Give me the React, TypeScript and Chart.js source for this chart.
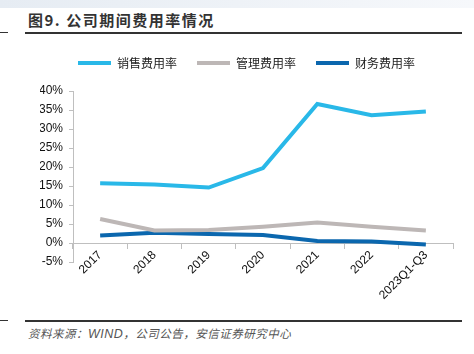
import React, { useEffect, useRef } from "react";
import { Chart, registerables } from "chart.js";

Chart.register(...registerables);

const categories = ["2017", "2018", "2019", "2020", "2021", "2022", "2023Q1-Q3"];
const salesRate = [15.7, 15.4, 14.6, 19.7, 36.6, 33.6, 34.6];
const mgmtRate = [6.3, 3.3, 3.4, 4.3, 5.4, 4.3, 3.3];
const financeRate = [2.0, 2.7, 2.4, 2.1, 0.5, 0.4, -0.4];
const seriesNames = ["销售费用率", "管理费用率", "财务费用率"];
const yTicks = [-5, 0, 5, 10, 15, 20, 25, 30, 35, 40];

const CJK = '"Noto Sans CJK SC", "Noto Sans", sans-serif';
const LATIN = '"Liberation Sans", Arial, sans-serif';

const legendGap = {
  id: "legendGap",
  beforeInit(chart: any) {
    const legend = chart.legend;
    if (!legend) return;
    const orig = legend.fit;
    legend.fit = function () {
      orig.call(this);
      this.height += 12;
    };
  },
};

export default function App() {
  const ref = useRef<HTMLCanvasElement | null>(null);

  useEffect(() => {
    if (!ref.current) return;
    const chart = new Chart(ref.current, {
      type: "line",
      data: {
        labels: categories,
        datasets: [
          { label: seriesNames[0], data: salesRate, borderColor: "#29B8E8", backgroundColor: "#29B8E8", borderWidth: 4, pointRadius: 0, tension: 0 },
          { label: seriesNames[1], data: mgmtRate, borderColor: "#BDB7B6", backgroundColor: "#BDB7B6", borderWidth: 4, pointRadius: 0, tension: 0 },
          { label: seriesNames[2], data: financeRate, borderColor: "#0B67AE", backgroundColor: "#0B67AE", borderWidth: 4, pointRadius: 0, tension: 0 },
        ],
      },
      options: {
        animation: false,
        responsive: false,
        maintainAspectRatio: false,
        layout: { padding: { top: 37, left: 40, right: 21, bottom: 56 } },
        plugins: {
          tooltip: { enabled: false },
          legend: {
            position: "top",
            labels: {
              boxWidth: 33,
              boxHeight: 4,
              padding: 20,
              color: "#222",
              font: { family: CJK, size: 12 },
              generateLabels: (c: any) =>
                c.data.datasets.map((d: any, i: number) => ({
                  text: d.label,
                  fillStyle: d.borderColor,
                  strokeStyle: d.borderColor,
                  lineWidth: 0,
                  hidden: false,
                  datasetIndex: i,
                  fontColor: "#222",
                })),
            },
          },
        },
        scales: {
          x: {
            type: "category",
            offset: true,
            position: { y: 0 } as any,
            afterFit: (s: any) => {
              s.height = 0;
            },
            grid: { display: true, drawOnChartArea: false, drawTicks: true, tickLength: 5, color: "#bfbfbf", offset: true },
            border: { display: true, color: "#bfbfbf", width: 1 },
            ticks: {
              minRotation: 45,
              maxRotation: 45,
              padding: 0,
              color: "#111",
              font: { family: LATIN, size: 12 },
              autoSkip: false,
            },
          },
          y: {
            min: -5,
            max: 40,
            afterBuildTicks: (s: any) => {
              s.ticks = yTicks.map((v) => ({ value: v }));
            },
            afterFit: (s: any) => {
              s.width = 33;
            },
            grid: { display: true, drawOnChartArea: false, drawTicks: true, tickLength: 4, color: "#bfbfbf" },
            border: { display: true, color: "#bfbfbf", width: 1 },
            ticks: {
              padding: 6,
              autoSkip: false,
              color: "#111",
              font: { family: LATIN, size: 12 },
              callback: (v: any) => `${v}%`,
            },
          },
        },
      },
      plugins: [legendGap],
    });
    return () => chart.destroy();
  }, []);

  return (
    <div style={{ position: "absolute", left: 0, top: 0, width: 474, height: 354, background: "#fff", overflow: "hidden" }}>
      <div style={{ position: "absolute", left: 0, top: 0, width: 474, height: 8, background: "linear-gradient(to right, #e6ecf3, #f6f8fb)" }} />
      <div
        style={{
          position: "absolute",
          left: 28,
          top: 10,
          fontFamily: CJK,
          fontWeight: 700,
          fontSize: 15,
          letterSpacing: 1.5,
          color: "#333",
          whiteSpace: "nowrap",
          lineHeight: "20px",
        }}
      >
        图9. 公司期间费用率情况
      </div>
      <div style={{ position: "absolute", left: 25, top: 32, width: 437, height: 1.5, background: "#333" }} />
      <div style={{ position: "absolute", left: 0, top: 32, width: 8, height: 1, background: "#333" }} />
      <canvas ref={ref} width={474} height={318} style={{ position: "absolute", left: 0, top: 0, width: 474, height: 318 }} />
      <div style={{ position: "absolute", left: 25, top: 320, width: 437, height: 1.5, background: "#333" }} />
      <div style={{ position: "absolute", left: 0, top: 320, width: 8, height: 1, background: "#333" }} />
      <div
        style={{
          position: "absolute",
          left: 28,
          top: 325,
          fontFamily: CJK,
          fontStyle: "italic",
          fontSize: 11.5,
          letterSpacing: 0.5,
          color: "#555",
          whiteSpace: "nowrap",
          lineHeight: "16px",
        }}
      >
        资料来源：<span style={{ fontFamily: LATIN, fontSize: 12.5 }}>WIND</span>，公司公告，安信证券研究中心
      </div>
    </div>
  );
}
